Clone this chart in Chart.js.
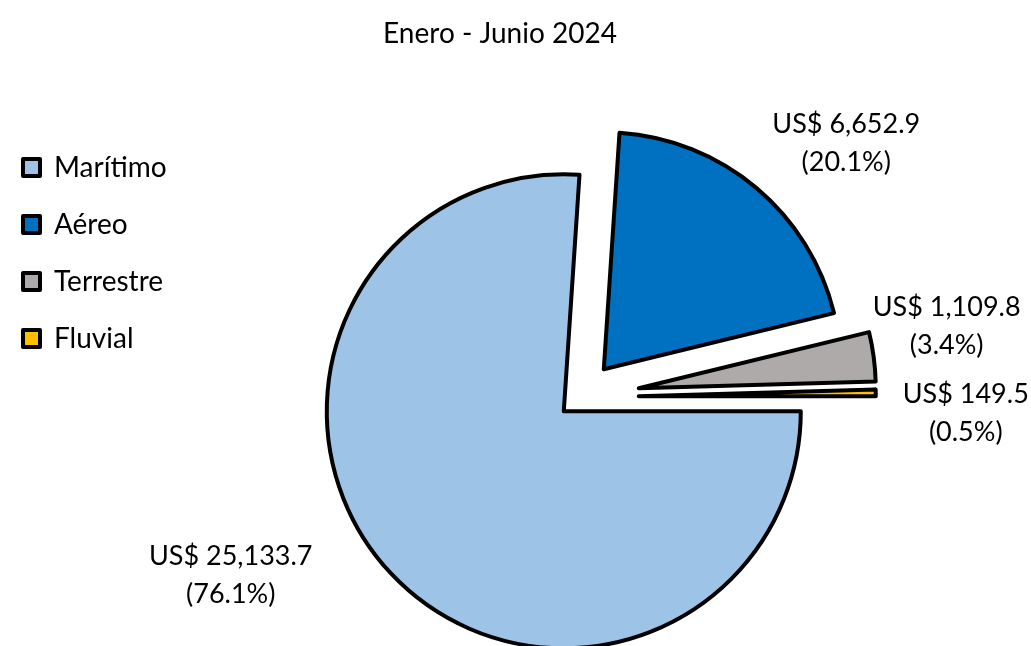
<!DOCTYPE html>
<html>
<head>
<meta charset="utf-8">
<script src="https://cdn.jsdelivr.net/npm/chart.js@4"></script>
<style>
  html, body { margin: 0; padding: 0; background: #fff; overflow: hidden; }
  /* taller than the window: the pie is cut off at the bottom like the original */
  #wrap { width: 1031px; height: 698px; position: relative; }
</style>
</head>
<body>
<div id="wrap"><canvas id="pieChart"></canvas></div>
<script>
const labels = ["Marítimo", "Aéreo", "Terrestre", "Fluvial"];
const values = [25133.7, 6652.9, 1109.8, 149.5];
const colors = ["#9DC3E6", "#0070C0", "#AEAAAA", "#FFC000"];
const title = "Enero - Junio 2024";

// exploded slices: shift in px for each slice
const explode = [[0, 0], [40, -42], [75, -23], [75, -15]];
// label nudge from the slice's outer mid point
const labelNudge = [[-160, 2], [90, -45], [73, -30], [90, 20]];

const FONT = "Lato";
const PAD_L = -6, PAD_R = 25, SPACER_W = 55;

const fmt = v => v.toLocaleString("en-US", { minimumFractionDigits: 1, maximumFractionDigits: 1 });

// empty box on the right so the pie sits right of the title centre
const spacer = {
  id: "spacer",
  beforeInit(chart){
    Chart.layouts.addBox(chart, {
      position: "right", weight: 0, fullSize: false,
      options: {},
      isHorizontal: () => false,
      update(maxW, maxH){ this.width = SPACER_W; this.height = maxH; },
      draw(){}
    });
  }
};

const explodePlugin = {
  id: "explode",
  beforeDatasetDraw(chart, args){
    const ctx = chart.ctx;
    args.meta.data.forEach((arc, i) => {
      const [dx, dy] = explode[i] || [0, 0];
      ctx.save();
      ctx.translate(dx, dy);
      arc.draw(ctx);
      ctx.restore();
    });
    return false;
  }
};

const valueLabels = {
  id: "valueLabels",
  afterDraw(chart){
    const ctx = chart.ctx;
    const meta = chart.getDatasetMeta(0);
    const total = values.reduce((a, b) => a + b, 0);
    ctx.save();
    ctx.font = `27px ${FONT}`;
    ctx.fillStyle = "#000";
    ctx.textAlign = "center";
    ctx.textBaseline = "middle";
    meta.data.forEach((arc, i) => {
      const mid = (arc.startAngle + arc.endAngle) / 2;
      const [dx, dy] = explode[i];
      const [nx, ny] = labelNudge[i];
      const x = arc.x + dx + Math.cos(mid) * arc.outerRadius + nx;
      const y = arc.y + dy + Math.sin(mid) * arc.outerRadius + ny;
      ctx.fillText("US$ " + fmt(values[i]), x, y - 19);
      ctx.fillText("(" + (values[i] / total * 100).toFixed(1) + "%)", x, y + 19);
    });
    ctx.restore();
  }
};

new Chart(document.getElementById("pieChart"), {
  type: "pie",
  data: {
    labels: labels,
    datasets: [{
      data: values,
      backgroundColor: colors,
      borderColor: "#000",
      borderWidth: 4,
      borderJoinStyle: "round"
    }]
  },
  options: {
    responsive: true,
    maintainAspectRatio: false,
    animation: false,
    rotation: 90,
    radius: 237,
    layout: { padding: { left: PAD_L, right: PAD_R, top: 0, bottom: 0 } },
    plugins: {
      title: {
        display: true,
        text: title,
        color: "#000",
        font: { family: FONT, size: 28, weight: "normal" },
        padding: { top: 17, bottom: 74 }
      },
      legend: {
        position: "left",
        align: "start",
        fullSize: false,
        labels: {
          color: "#000",
          font: { family: FONT, size: 28 },
          boxWidth: 17,
          boxHeight: 17,
          padding: 29
        }
      },
      tooltip: { enabled: false }
    }
  },
  plugins: [spacer, explodePlugin, valueLabels]
});
</script>
</body>
</html>
